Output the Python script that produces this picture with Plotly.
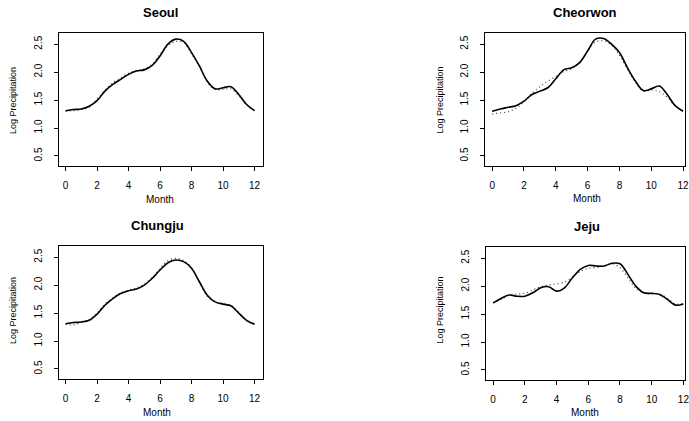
import plotly.graph_objects as go

W, H = 689, 421

months = [0, 0.5, 1, 1.5, 2, 2.5, 3, 3.5, 4, 4.5, 5, 5.5, 6, 6.5, 7, 7.5, 8, 8.5, 9, 9.5, 10, 10.5, 11, 11.5, 12]

seoul_solid = [1.31, 1.33, 1.34, 1.39, 1.49, 1.66, 1.78, 1.87, 1.96, 2.02, 2.04, 2.12, 2.29, 2.50, 2.59, 2.55,
               2.35, 2.11, 1.84, 1.70, 1.72, 1.74, 1.60, 1.42, 1.31]
seoul_dotted = [1.30, 1.31, 1.33, 1.37, 1.52, 1.68, 1.81, 1.90, 1.98, 2.03, 2.06, 2.14, 2.32, 2.47, 2.55, 2.53,
                2.33, 2.10, 1.82, 1.69, 1.69, 1.70, 1.58, 1.42, 1.31]

cheorwon_solid = [1.30, 1.34, 1.37, 1.40, 1.48, 1.60, 1.66, 1.72, 1.88, 2.04, 2.08, 2.17, 2.38, 2.59, 2.60, 2.50,
                  2.35, 2.08, 1.84, 1.67, 1.70, 1.75, 1.60, 1.40, 1.30]
cheorwon_dotted = [1.25, 1.27, 1.29, 1.35, 1.47, 1.62, 1.74, 1.84, 1.92, 2.01, 2.06, 2.17, 2.38, 2.54, 2.56, 2.48,
                   2.30, 2.05, 1.82, 1.66, 1.68, 1.65, 1.55, 1.40, 1.30]

chungju_solid = [1.31, 1.33, 1.34, 1.37, 1.48, 1.64, 1.76, 1.85, 1.90, 1.93, 2.00, 2.12, 2.27, 2.40, 2.45, 2.42,
                 2.30, 2.06, 1.82, 1.70, 1.66, 1.63, 1.50, 1.37, 1.30]
chungju_dotted = [1.30, 1.29, 1.33, 1.38, 1.50, 1.66, 1.77, 1.86, 1.91, 1.95, 2.02, 2.14, 2.30, 2.44, 2.48, 2.44,
                  2.31, 2.05, 1.80, 1.70, 1.67, 1.64, 1.51, 1.36, 1.31]

jeju_solid = [1.70, 1.78, 1.84, 1.82, 1.82, 1.88, 1.97, 1.99, 1.91, 1.97, 2.15, 2.30, 2.37, 2.36, 2.36, 2.41,
              2.40, 2.21, 2.00, 1.88, 1.87, 1.85, 1.76, 1.66, 1.68]
jeju_dotted = [1.70, 1.76, 1.84, 1.86, 1.87, 1.93, 1.99, 2.02, 2.04, 2.07, 2.16, 2.26, 2.32, 2.33, 2.37, 2.40,
               2.33, 2.15, 1.96, 1.88, 1.86, 1.86, 1.78, 1.68, 1.69]

x_ticks = [0, 2, 4, 6, 8, 10, 12]
y_ticks = [0.5, 1.0, 1.5, 2.0, 2.5]
y_tick_text = ["0.5", "1.0", "1.5", "2.0", "2.5"]

panels = [
    # name, solid, dotted, plot box px (left, top, right, bottom), x range, title pos, month pos, ylabel pos
    ("Seoul", seoul_solid, seoul_dotted, (59, 33, 265, 166), [-0.44, 12.57], (161, 13), (161, 199), (13, 100)),
    ("Cheorwon", cheorwon_solid, cheorwon_dotted, (488, 33, 689, 166), [-0.44, 12.12], (588, 13), (590, 198), (443, 100)),
    ("Chungju", chungju_solid, chungju_dotted, (59, 246, 265, 379), [-0.44, 12.57], (158, 225), (158, 412), (13, 310)),
    ("Jeju", jeju_solid, jeju_dotted, (489, 247, 689, 380), [-0.44, 12.1], (590, 226), (588, 412), (443, 310)),
]

fig = go.Figure()
font_main = "Liberation Sans, Arial, sans-serif"
annotations = []
layout = {}

for i, (name, solid, dotted, box, xr, tpos, mpos, ypos) in enumerate(panels, start=1):
    xa = "x" if i == 1 else f"x{i}"
    ya = "y" if i == 1 else f"y{i}"
    xkey = "xaxis" if i == 1 else f"xaxis{i}"
    ykey = "yaxis" if i == 1 else f"yaxis{i}"
    l, t, r, b = box
    fig.add_trace(go.Scatter(x=months, y=dotted, mode="lines", xaxis=xa, yaxis=ya,
                             line=dict(color="#444444", width=1.2, dash="1px,3px", shape="spline"),
                             showlegend=False, hoverinfo="skip"))
    fig.add_trace(go.Scatter(x=months, y=solid, mode="lines", xaxis=xa, yaxis=ya,
                             line=dict(color="black", width=1.6, shape="spline"),
                             showlegend=False, hoverinfo="skip"))
    layout[xkey] = dict(domain=[l / W, r / W], range=xr, anchor=ya, tickvals=x_ticks,
                        ticktext=[str(v) for v in x_ticks], ticks="outside", ticklen=4,
                        tickcolor="black", showline=True, mirror=True, linecolor="black",
                        linewidth=1, showgrid=False, zeroline=False,
                        tickfont=dict(family=font_main, size=10, color="black"),
                        ticklabelstandoff=6, ticklabeloverflow="allow")
    layout[ykey] = dict(domain=[1 - b / H, 1 - t / H], range=[0.32, 2.70], anchor=xa,
                        tickvals=y_ticks, ticktext=y_tick_text, tickangle=-90,
                        ticks="outside", ticklen=4, tickcolor="black", showline=True,
                        mirror=True, linecolor="black", linewidth=1, showgrid=False,
                        zeroline=False,
                        tickfont=dict(family="Liberation Sans Narrow, Liberation Sans, sans-serif",
                                      size=10, color="black"),
                        ticklabelstandoff=8)
    annotations.append(dict(text=f"<b>{name}</b>", x=tpos[0] / W, y=1 - tpos[1] / H,
                            xref="paper", yref="paper", xanchor="center", yanchor="middle",
                            showarrow=False, font=dict(family=font_main, size=13, color="black")))
    annotations.append(dict(text="Month", x=mpos[0] / W, y=1 - mpos[1] / H,
                            xref="paper", yref="paper", xanchor="center", yanchor="middle",
                            showarrow=False, font=dict(family=font_main, size=10, color="black")))
    annotations.append(dict(text="Log Precipitation", x=ypos[0] / W, y=1 - ypos[1] / H,
                            xref="paper", yref="paper", xanchor="center", yanchor="middle",
                            textangle=-90, showarrow=False,
                            font=dict(family="Liberation Sans Narrow, Liberation Sans, sans-serif",
                                      size=9, color="black")))

fig.update_layout(width=W, height=H, margin=dict(l=0, r=0, t=0, b=0),
                  paper_bgcolor="white", plot_bgcolor="white",
                  annotations=annotations, **layout)

fig.write_html("out.html")
